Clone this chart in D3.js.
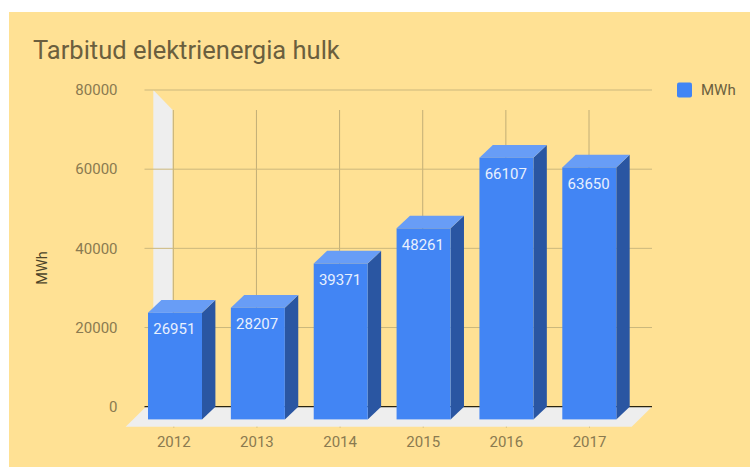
<!DOCTYPE html>
<html>
<head>
<meta charset="utf-8">
<script src="https://cdn.jsdelivr.net/npm/d3@7"></script>
<style>
  html, body { margin: 0; padding: 0; background: #fff; overflow: hidden; }
  text { font-family: Roboto, sans-serif; }
  .axis .domain { display: none; }
</style>
</head>
<body>
<div class="chart"></div>
<script>
const years = ["2012", "2013", "2014", "2015", "2016", "2017"];
const mwh = [26951, 28207, 39371, 48261, 66107, 63650];
const yTicks = [0, 20000, 40000, 60000, 80000];

let width = 750, height = 467;

let svg = d3.select(".chart").append("svg")
    .attr("width", width)
    .attr("height", height);

// background panel
svg.append("rect")
    .attr("x", 9).attr("y", 12)
    .attr("width", width - 9).attr("height", height - 12)
    .attr("fill", "#ffe194");

// back plane scales, the front of the bars is shifted by depth
let y = d3.scaleLinear().domain([0, 80000]).range([406.7, 90]);
let xBack = d3.scalePoint().domain(years).range([173.3, 589]);
let xFront = d3.scalePoint().domain(years).range([175, 589.3]);
let barWidth = 54;
let depthX = 13.4, depthY = 12.7;

// side wall and floor
svg.append("polygon")
    .attr("points", [[153.3, y(80000)], [172.7, 110], [172.7, y(0)], [153.3, 426]].join(" "))
    .attr("fill", "#eeeeee");
svg.append("polygon")
    .attr("points", [[125.7, 426.7], [631.7, 426.7], [652, y(0)], [146, y(0)]].join(" "))
    .attr("fill", "#eeeeee");

// grid
svg.append("g").selectAll("line")
    .data(years)
    .join("line")
    .attr("x1", d => xBack(d)).attr("x2", d => xBack(d))
    .attr("y1", 110).attr("y2", y(0))
    .attr("stroke", "#c2ae76").attr("stroke-width", 1);

svg.append("g").selectAll("line")
    .data(yTicks)
    .join("line")
    .attr("x1", 144.5).attr("x2", 652)
    .attr("y1", d => y(d)).attr("y2", d => y(d))
    .attr("stroke", d => d === 0 ? "#2b2510" : "#cbb77c")
    .attr("stroke-width", d => d === 0 ? 1.2 : 1);

// axes
let yAxis = svg.append("g")
    .attr("class", "axis")
    .attr("transform", "translate(117.5,0)")
    .call(d3.axisLeft(y).tickValues(yTicks).tickSize(0).tickPadding(0).tickFormat(d3.format("d")));
yAxis.selectAll("text")
    .attr("fill", "#8a7a50")
    .style("font-size", "15px");

let xAxis = svg.append("g")
    .attr("class", "axis")
    .attr("transform", "translate(0,426.7)")
    .call(d3.axisBottom(xBack).tickSize(1).tickPadding(8.5));
xAxis.selectAll("line").attr("stroke", "#cbb77c");
xAxis.selectAll("text")
    .attr("fill", "#8a7a50")
    .style("font-size", "15px");

// bars
let bars = svg.append("g").selectAll("g")
    .data(years.map((d, i) => ({ year: d, value: mwh[i] })))
    .join("g");

let front0 = y(0) + depthY;
let barTop = d => y(d.value) + depthY;
let barLeft = d => xFront(d.year) - barWidth / 2;

bars.append("polygon")
    .attr("points", d => [
        [barLeft(d) + barWidth, barTop(d)],
        [barLeft(d) + barWidth + depthX, barTop(d) - depthY],
        [barLeft(d) + barWidth + depthX, front0 - depthY],
        [barLeft(d) + barWidth, front0]
    ].join(" "))
    .attr("fill", "#2a56a2");

bars.append("polygon")
    .attr("points", d => [
        [barLeft(d), barTop(d)],
        [barLeft(d) + depthX, barTop(d) - depthY],
        [barLeft(d) + barWidth + depthX, barTop(d) - depthY],
        [barLeft(d) + barWidth, barTop(d)]
    ].join(" "))
    .attr("fill", "#689df6");

bars.append("rect")
    .attr("x", barLeft)
    .attr("y", barTop)
    .attr("width", barWidth)
    .attr("height", d => front0 - barTop(d))
    .attr("fill", "#4285f4");

bars.append("text")
    .attr("x", d => xFront(d.year) - 0.7)
    .attr("y", d => barTop(d) + 21.5)
    .attr("text-anchor", "middle")
    .attr("fill", "#e8f0fe")
    .style("font-size", "15px")
    .text(d => d.value);

// title
svg.append("text")
    .attr("x", 33).attr("y", 59)
    .attr("fill", "#6b5f3e")
    .style("font-size", "25.5px")
    .text("Tarbitud elektrienergia hulk");

// axis title
svg.append("text")
    .attr("transform", "translate(47,268) rotate(-90)")
    .attr("text-anchor", "middle")
    .attr("fill", "#4c4429")
    .style("font-size", "14.5px")
    .text("MWh");

// legend
svg.append("rect")
    .attr("x", 677).attr("y", 82.5)
    .attr("width", 15).attr("height", 15)
    .attr("rx", 2)
    .attr("fill", "#4285f4");
svg.append("text")
    .attr("x", 701).attr("y", 95)
    .attr("fill", "#6b5f3e")
    .style("font-size", "15px")
    .text("MWh");
</script>
</body>
</html>
